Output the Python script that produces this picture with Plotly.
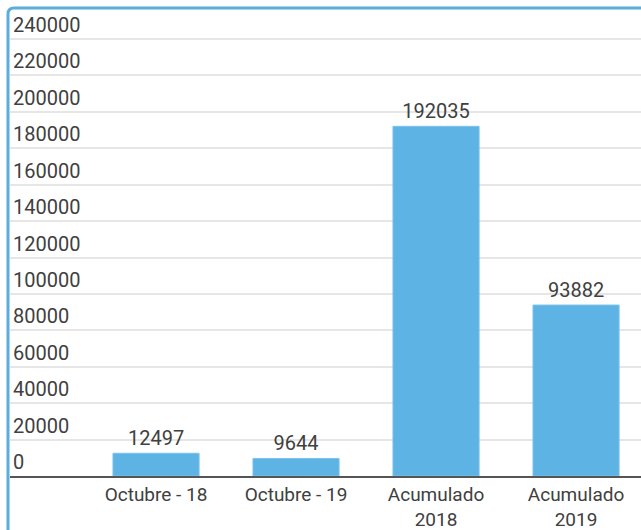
import plotly.graph_objects as go

categories = ["Octubre - 18", "Octubre - 19", "Acumulado<br>2018", "Acumulado<br>2019"]
values = [12497, 9644, 192035, 93882]
tick_vals = [0, 20000, 40000, 60000, 80000, 100000, 120000, 140000, 160000, 180000, 200000, 220000, 240000]

W, H = 641, 530
ML, MR, MT, MB = 10, 0, 10, 54
plot_w = W - ML - MR
plot_h = H - MT - MB

font = dict(family="Roboto, Arial, sans-serif", size=20, color="#404040")
xfont = dict(family="Roboto, Arial, sans-serif", size=19, color="#404040")

fig = go.Figure(go.Bar(
    x=list(range(len(categories))),
    y=values,
    text=[str(v) for v in values],
    textposition="outside",
    textfont=font,
    cliponaxis=False,
    marker=dict(color="#5db3e3", line=dict(color="#7cc2ea", width=1)),
    width=0.615,
))

def px_x(p):
    return (p - ML) / plot_w

def px_y(p):
    return (H - MB - p) / plot_h

r = 6
x0 = px_x(8)
yt = px_y(8)
path = (f"M {x0},{px_y(535)} L {x0},{px_y(8 + r)} "
        f"Q {x0},{yt} {px_x(8 + r)},{yt} L {px_x(660)},{yt}")

fig.update_layout(
    width=W, height=H,
    margin=dict(l=ML, r=MR, t=MT, b=MB),
    paper_bgcolor="white",
    plot_bgcolor="white",
    showlegend=False,
    font=font,
    xaxis=dict(
        range=[-1.043, 3.464],
        tickmode="array",
        tickvals=list(range(len(categories))),
        ticktext=categories,
        showgrid=False,
        showline=True,
        linecolor="#555555",
        linewidth=2,
        ticks="",
        tickfont=xfont,
        zeroline=False,
        automargin=False,
    ),
    yaxis=dict(
        range=[0, 240000 * plot_h / 437],
        tickmode="array",
        tickvals=tick_vals,
        ticktext=[str(v) for v in tick_vals],
        ticklabelposition="inside top",
        showgrid=True,
        gridcolor="#e6e6e6",
        gridwidth=1.5,
        zeroline=False,
        showline=False,
        ticks="",
        tickfont=font,
        automargin=False,
    ),
    shapes=[dict(
        type="path", xref="paper", yref="paper", path=path,
        line=dict(color="#5aaedc", width=3), layer="above",
    )],
)

fig.write_html(
    "out.html",
    config={"displayModeBar": False},
    post_script="document.body.style.margin='0';document.body.style.overflow='hidden';",
)
